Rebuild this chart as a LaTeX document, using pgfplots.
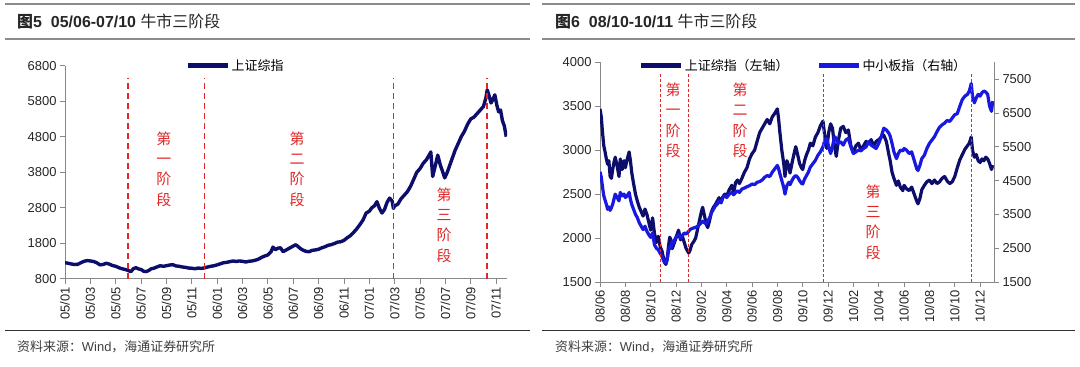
\documentclass[border=0pt]{standalone}
\usepackage{pgfplots}
\pgfplotsset{compat=1.18}
\usepackage{fontspec}
\setmainfont{Liberation Sans}
\newfontfamily\cjk{Noto Sans CJK SC}

\definecolor{navy}{HTML}{0D0D6B}
\definecolor{sme}{HTML}{1818E0}
\definecolor{stage}{HTML}{E02828}
\definecolor{axgray}{HTML}{888888}
\definecolor{rulegray}{HTML}{8C8C8C}

\pgfplotsset{
  base/.style={
    scale only axis,
    axis line style={axgray, line width=0.8bp, -},
    tick style={axgray, line width=0.8bp},
    major tick length=5bp,
    tick align=outside,
    ticklabel style={font=\fontsize{13}{15}\selectfont, text=black!85},
    /pgf/number format/assume math mode=true,
    /pgf/number format/1000 sep={},
    legend style={draw=none, fill=none, inner sep=0pt, font=\cjk\fontsize{13}{15}\selectfont,
      nodes={inner sep=1.5bp}},
    legend cell align=left,
    legend image code/.code={\draw[#1, line width=5bp] (0bp,0bp) -- (40bp,0bp);},
  },
}
\tikzset{stagelab/.style={text=stage, font=\cjk\fontsize{15}{20.5}\selectfont, align=center}}

\pgfplotstableread{
x y
0.0 1250
0.25 1235
0.5 1215
0.75 1200
1.0 1205
1.25 1250
1.5 1290
1.75 1310
2.0 1300
2.25 1285
2.5 1250
2.75 1190
3.0 1200
3.25 1235
3.5 1210
3.75 1170
4.0 1150
4.25 1110
4.5 1080
4.75 1060
5.0 1030
5.2 998
5.4 1085
5.6 1110
5.8 1075
6.0 1060
6.2 1010
6.4 1000
6.6 1030
6.8 1080
7.0 1095
7.25 1130
7.5 1165
7.75 1150
8.0 1165
8.25 1185
8.5 1195
8.75 1160
9.0 1150
9.25 1130
9.5 1120
9.75 1100
10.0 1095
10.25 1080
10.5 1100
10.75 1090
11.0 1105
11.25 1130
11.5 1150
11.75 1165
12.0 1190
12.25 1220
12.5 1250
12.75 1260
13.0 1280
13.25 1300
13.5 1285
13.75 1300
14.0 1290
14.25 1270
14.5 1290
14.75 1300
15.0 1320
15.25 1350
15.5 1400
15.75 1440
16.0 1470
16.25 1560
16.4 1690
16.6 1620
16.8 1660
17.0 1670
17.2 1560
17.5 1620
17.75 1670
18.0 1720
18.2 1757
18.4 1700
18.6 1640
18.8 1600
19.0 1570
19.25 1560
19.5 1600
19.75 1610
20.0 1630
20.25 1670
20.5 1700
20.75 1740
21.0 1760
21.25 1790
21.5 1830
21.75 1840
22.0 1880
22.25 1950
22.5 2010
22.75 2100
23.0 2200
23.25 2320
23.5 2450
23.75 2650
24.0 2700
24.2 2800
24.4 2850
24.6 2970
24.8 2780
25.0 2650
25.2 2750
25.4 2950
25.6 3070
25.8 2990
25.9 2780
26.0 2850
26.25 2900
26.5 3050
26.75 3150
27.0 3250
27.25 3400
27.5 3600
27.75 3800
28.0 3900
28.25 4050
28.5 4150
28.75 4300
28.85 4370
29.0 3680
29.15 3900
29.4 4280
29.6 4000
29.8 3800
29.95 3640
30.15 3800
30.35 4000
30.5 4150
30.75 4400
31.0 4600
31.25 4800
31.5 4950
31.75 5150
32.0 5300
32.25 5350
32.5 5450
32.75 5550
33.0 5650
33.2 5900
33.3 6120
33.45 5950
33.6 5750
33.75 5850
33.9 5980
34.05 5700
34.2 5500
34.35 5550
34.5 5250
34.65 5100
34.8 4800
}\shA

\pgfplotstableread{
x y
0.0 3470
0.1 3380
0.2 3200
0.3 3050
0.4 2980
0.5 2900
0.6 2840
0.7 2880
0.8 2700
0.9 2680
1.0 2780
1.1 2860
1.2 2920
1.35 2820
1.5 2700
1.6 2900
1.75 2780
1.9 2880
2.0 2800
2.15 2900
2.3 2980
2.4 2880
2.5 2750
2.65 2620
2.8 2500
2.95 2420
3.1 2350
3.25 2300
3.4 2250
3.55 2330
3.7 2270
3.85 2180
4.0 2090
4.15 2230
4.3 2050
4.45 1950
4.6 2020
4.75 1900
4.9 1850
5.0 1780
5.1 1720
5.2 1700
5.3 1760
5.4 1900
5.5 2010
5.6 1980
5.7 1880
5.8 1920
5.95 1980
6.1 2050
6.2 2090
6.35 1980
6.5 2020
6.65 1950
6.8 1880
7.0 1830
7.1 1860
7.25 1930
7.4 1960
7.55 2000
7.7 2100
7.85 2200
8.0 2300
8.1 2350
8.25 2250
8.4 2150
8.5 2120
8.65 2200
8.8 2300
8.95 2350
9.1 2380
9.25 2420
9.4 2460
9.55 2400
9.7 2470
9.85 2500
10.0 2480
10.2 2550
10.4 2600
10.55 2520
10.7 2630
10.85 2660
11.0 2620
11.2 2680
11.4 2750
11.6 2800
11.8 2900
12.0 2960
12.2 3000
12.4 3100
12.6 3200
12.8 3250
13.0 3300
13.2 3350
13.4 3300
13.6 3380
13.8 3420
14.0 3470
14.1 3350
14.2 3200
14.35 3000
14.5 2850
14.6 2700
14.75 2880
14.9 2820
15.0 2740
15.15 2850
15.3 2950
15.45 3040
15.6 2950
15.75 2850
15.9 2800
16.0 2780
16.15 2880
16.3 2950
16.45 3000
16.6 3080
16.8 3050
17.0 3150
17.2 3200
17.4 3280
17.6 3330
17.75 3150
17.9 3020
18.05 3200
18.2 3300
18.35 3250
18.5 3050
18.65 2930
18.8 3100
19.0 3250
19.2 3270
19.4 3200
19.6 3230
19.8 3050
20.0 2970
20.2 3050
20.4 3080
20.6 3000
20.8 3050
21.0 3100
21.2 3080
21.4 3120
21.6 3050
21.8 3100
22.0 3120
22.2 3150
22.4 3170
22.6 3100
22.8 2950
22.9 2880
23.05 2750
23.2 2680
23.4 2600
23.55 2650
23.7 2580
23.9 2540
24.0 2600
24.2 2560
24.4 2540
24.6 2580
24.8 2500
25.0 2420
25.1 2390
25.25 2450
25.4 2550
25.6 2600
25.8 2640
26.0 2660
26.2 2620
26.4 2660
26.6 2620
26.8 2640
27.0 2680
27.2 2700
27.4 2650
27.6 2620
27.8 2640
28.0 2700
28.2 2800
28.4 2890
28.6 2950
28.8 3010
29.0 3050
29.15 3080
29.3 3150
29.4 3000
29.55 2920
29.7 2950
29.85 2880
30.0 2860
30.15 2900
30.3 2880
30.45 2920
30.6 2900
30.75 2850
30.9 2780
31.0 2830
}\shB

\pgfplotstableread{
x y
0.0 4760
0.1 4600
0.2 4300
0.3 4050
0.4 3920
0.5 3800
0.6 3650
0.7 3720
0.8 3620
0.9 3700
1.0 3800
1.1 3950
1.2 4100
1.35 4000
1.5 3900
1.6 4150
1.75 4050
1.9 4100
2.0 4000
2.15 4050
2.3 4150
2.4 3950
2.5 3800
2.65 3650
2.8 3500
2.95 3400
3.1 3250
3.25 3150
3.4 3050
3.55 3150
3.7 3000
3.85 2900
4.0 2820
4.15 2950
4.3 2600
4.45 2500
4.6 2450
4.75 2350
4.9 2250
5.0 2150
5.1 2080
5.2 2070
5.3 2150
5.4 2400
5.5 2550
5.6 2500
5.7 2700
5.8 2650
5.95 2800
6.1 2850
6.2 2900
6.35 2800
6.5 2880
6.65 2950
6.8 2920
7.0 3000
7.1 3050
7.25 3080
7.4 3100
7.55 3120
7.7 3150
7.85 3200
8.0 3250
8.1 3300
8.25 3250
8.4 3220
8.5 3300
8.65 3400
8.8 3550
8.95 3650
9.1 3750
9.25 3800
9.4 3900
9.55 3850
9.7 4000
9.85 4050
10.0 4000
10.2 4100
10.4 4150
10.55 4080
10.7 4150
10.85 4200
11.0 4150
11.2 4250
11.4 4280
11.6 4320
11.8 4350
12.0 4400
12.2 4380
12.4 4450
12.6 4470
12.8 4520
13.0 4600
13.2 4650
13.4 4620
13.6 4750
13.8 4850
14.0 4950
14.1 4850
14.2 4700
14.35 4500
14.5 4300
14.6 4100
14.75 4350
14.9 4450
15.0 4380
15.15 4500
15.3 4600
15.45 4650
15.6 4600
15.75 4500
15.9 4420
16.0 4400
16.15 4550
16.3 4650
16.45 4750
16.6 4900
16.8 5000
17.0 5100
17.2 5250
17.4 5350
17.6 5500
17.75 5700
17.9 5750
18.05 5500
18.2 5300
18.35 5500
18.5 5800
18.65 5750
18.8 5600
19.0 5650
19.2 5550
19.4 5700
19.6 5750
19.8 5500
20.0 5300
20.2 5350
20.4 5400
20.6 5380
20.8 5450
21.0 5500
21.2 5650
21.4 5550
21.6 5500
21.8 5450
22.0 5600
22.2 5800
22.4 6050
22.6 6000
22.8 5900
22.9 5820
23.05 5600
23.2 5350
23.4 5150
23.55 5300
23.7 5400
23.9 5380
24.0 5450
24.2 5400
24.4 5300
24.6 5350
24.8 5100
25.0 4850
25.1 4800
25.25 4950
25.4 5150
25.6 5250
25.8 5450
26.0 5600
26.2 5700
26.4 5800
26.6 5950
26.8 6080
27.0 6150
27.2 6200
27.4 6280
27.6 6250
27.8 6350
28.0 6450
28.2 6480
28.4 6700
28.6 6900
28.8 7000
29.0 7050
29.15 7150
29.3 7370
29.4 7000
29.55 6800
29.7 6950
29.85 7050
30.0 7000
30.15 7100
30.3 7150
30.45 7120
30.6 7050
30.75 6700
30.9 6550
31.0 6850
}\sme

\begin{document}
\begin{tikzpicture}[x=1bp,y=1bp]
\path[use as bounding box, fill=white] (0,0) rectangle (1080,366);

% ---------- Panel 1 header/footer ----------
\draw[rulegray, line width=2bp] (5,362) -- (530,362);
\draw[rulegray, line width=2bp] (5,327) -- (530,327);
\node[anchor=west, inner sep=0pt, font=\fontsize{16}{18}\selectfont, text=black!85] at (17,344)
  {{\cjk\bfseries 图}\textbf{5}\hspace{9bp}\textbf{05/06-07/10} {\cjk 牛市三阶段}};
\draw[black!80, line width=0.8bp] (5,35.3) -- (530,35.3);
\node[anchor=west, inner sep=0pt, font=\fontsize{13}{15}\selectfont, text=black!75] at (17,19)
  {{\cjk 资料来源：}Wind{\cjk ，海通证券研究所}};

% ---------- Panel 2 header/footer ----------
\draw[rulegray, line width=2bp] (542,362) -- (1075,362);
\draw[rulegray, line width=2bp] (542,327) -- (1075,327);
\node[anchor=west, inner sep=0pt, font=\fontsize{16}{18}\selectfont, text=black!85] at (555,344)
  {{\cjk\bfseries 图}\textbf{6}\hspace{9bp}\textbf{08/10-10/11} {\cjk 牛市三阶段}};
\draw[black!80, line width=0.8bp] (542,35.3) -- (1075,35.3);
\node[anchor=west, inner sep=0pt, font=\fontsize{13}{15}\selectfont, text=black!75] at (555,19)
  {{\cjk 资料来源：}Wind{\cjk ，海通证券研究所}};

% ---------- Panel 1 axis ----------
\begin{axis}[base, at={(65bp,87.3bp)}, anchor=south west, width=442bp, height=213bp,
  xmin=0, xmax=34.86, ymin=800, ymax=6800,
  axis x line*=bottom, axis y line*=left,
  ytick={800,1800,2800,3800,4800,5800,6800},
  xtick={0,2,...,34},
  xticklabels={05/01,05/03,05/05,05/07,05/09,05/11,06/01,06/03,06/05,06/07,06/09,06/11,07/01,07/03,07/05,07/07,07/09,07/11},
  xticklabel style={rotate=90, anchor=east},
  legend style={at={(axis description cs:0.2715,1.0)}, anchor=west},
]
\addplot[navy, line width=3.4bp, line join=round] table[x=x,y=y] {\shA};
\addlegendentry{上证综指}
\addplot[stage, line width=1.5bp, dash pattern=on 6bp off 4bp, forget plot] coordinates {(4.95,800) (4.95,6454)};
\addplot[stage, line width=1.5bp, dash pattern=on 6bp off 4bp, forget plot] coordinates {(11.02,800) (11.02,6454)};
\addplot[stage, line width=1.5bp, dash pattern=on 6bp off 4bp, forget plot] coordinates {(25.9,800) (25.9,6454)};
\addplot[stage, line width=1.5bp, dash pattern=on 6bp off 4bp, forget plot] coordinates {(33.3,800) (33.3,6454)};
\node[stagelab] at (axis cs:7.8,3890) {第\\一\\阶\\段};
\node[stagelab] at (axis cs:18.3,3890) {第\\二\\阶\\段};
\node[stagelab] at (axis cs:29.9,2313) {第\\三\\阶\\段};
\end{axis}

% ---------- Panel 2 left axis ----------
\begin{axis}[base, at={(600bp,84bp)}, anchor=south west, width=394bp, height=219.7bp,
  xmin=0, xmax=31.1, ymin=1500, ymax=4000,
  axis x line*=bottom, axis y line*=left,
  ytick={1500,2000,2500,3000,3500,4000},
  xtick={0,2,...,30},
  xticklabels={08/06,08/08,08/10,08/12,09/02,09/04,09/06,09/08,09/10,09/12,10/02,10/04,10/06,10/08,10/10,10/12},
  xticklabel style={rotate=90, anchor=east},
]
\addplot[navy, line width=3.2bp, line join=round] table[x=x,y=y] {\shB};
\node[stagelab] at (axis cs:5.76,3340) {第\\一\\阶\\段};
\node[stagelab] at (axis cs:11.05,3340) {第\\二\\阶\\段};
\node[stagelab] at (axis cs:21.55,2182) {第\\三\\阶\\段};
\end{axis}

% ---------- Panel 2 right axis ----------
\begin{axis}[base, at={(600bp,84bp)}, anchor=south west, width=394bp, height=219.7bp,
  xmin=0, xmax=31.1, ymin=1500, ymax=8000,
  axis x line=none, axis y line*=right,
  ytick={1500,2500,3500,4500,5500,6500,7500},
  legend columns=2,
  legend style={at={(axis description cs:0.097,0.9845)}, anchor=west,
    /tikz/every even column/.append style={column sep=26bp}},
]
\addlegendimage{navy, line width=3.2bp}
\addlegendentry{上证综指（左轴）}
\addplot[sme, line width=3.2bp, line join=round] table[x=x,y=y] {\sme};
\addlegendentry{中小板指（右轴）}
\addplot[stage, line width=0.9bp, dash pattern=on 3bp off 2bp, forget plot] coordinates {(4.79,1500) (4.79,7676)};
\addplot[stage, line width=0.9bp, dash pattern=on 3bp off 2bp, forget plot] coordinates {(7.0,1500) (7.0,7676)};
\addplot[stage, line width=0.9bp, dash pattern=on 3bp off 2bp, forget plot] coordinates {(17.6,1500) (17.6,7676)};
\addplot[stage, line width=0.9bp, dash pattern=on 3bp off 2bp, forget plot] coordinates {(29.3,1500) (29.3,7676)};
\end{axis}
\end{tikzpicture}
\end{document}
